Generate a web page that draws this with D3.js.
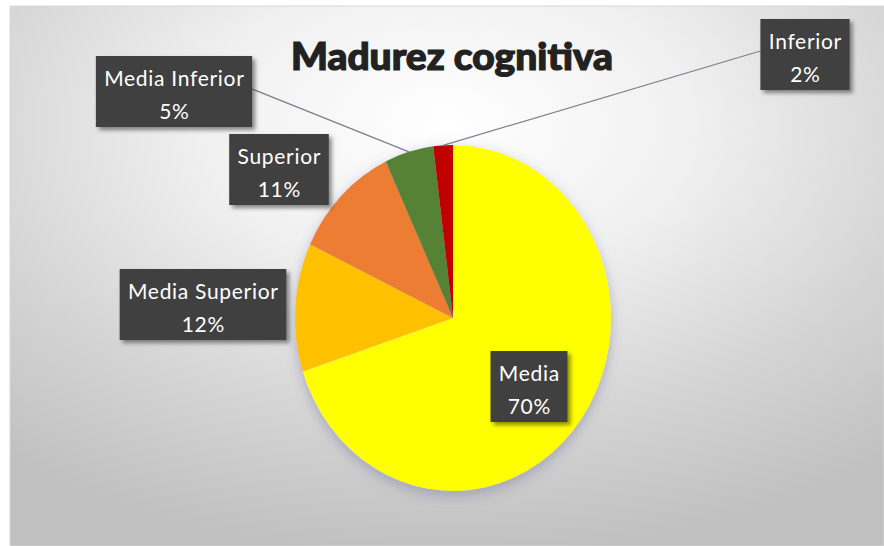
<!DOCTYPE html>
<html>
<head>
<meta charset="utf-8">
<script src="https://cdn.jsdelivr.net/npm/d3@7/dist/d3.min.js"></script>
<style>
html,body{margin:0;padding:0;background:#fff;}
svg{display:block;}
</style>
</head>
<body>
<svg id="chart" width="884" height="546"></svg>
<script>
// ---- data ----
const categories = ["Media", "Media Superior", "Superior", "Media Inferior", "Inferior"];
const values = [70, 12, 11, 5, 2];
const percentLabels = ["70%", "12%", "11%", "5%", "2%"];
const colors = ["#FFFF00", "#FFC000", "#ED7D31", "#548235", "#C00000"];
const title = "Madurez cognitiva";

// ---- layout (label box centre x, top y; leader flag) ----
const labelLayout = [
  {cx: 529, top: 351, leader: false},
  {cx: 203, top: 269, leader: false},
  {cx: 279, top: 134, leader: false},
  {cx: 174, top: 56, leader: true, side: "right"},
  {cx: 805, top: 19, leader: true, side: "left"}
];

const svg = d3.select("#chart");
const W = 884, H = 546;
const defs = svg.append("defs");

const bg = defs.append("radialGradient").attr("id", "bg")
  .attr("cx", "50%").attr("cy", "22%").attr("r", "80%").attr("fx", "50%").attr("fy", "22%");
bg.append("stop").attr("offset", "0%").attr("stop-color", "#ffffff");
bg.append("stop").attr("offset", "35%").attr("stop-color", "#f0f0f0");
bg.append("stop").attr("offset", "70%").attr("stop-color", "#d4d4d4");
bg.append("stop").attr("offset", "100%").attr("stop-color", "#c0c0c0");

const sh = defs.append("filter").attr("id", "boxShadow").attr("x", "-20%").attr("y", "-20%").attr("width", "150%").attr("height", "150%");
sh.append("feDropShadow").attr("dx", 3).attr("dy", 3).attr("stdDeviation", 2).attr("flood-color", "#000").attr("flood-opacity", 0.45);

const psh = defs.append("filter").attr("id", "pieShadow").attr("x", "-20%").attr("y", "-20%").attr("width", "140%").attr("height", "140%");
psh.append("feDropShadow").attr("dx", 0).attr("dy", 4).attr("stdDeviation", 6).attr("flood-color", "#7070a0").attr("flood-opacity", 0.45);

// frame background
svg.append("rect").attr("x", 10).attr("y", 6).attr("width", W - 10).attr("height", H - 6)
  .attr("fill", "url(#bg)").attr("stroke", "#d8d8d8").attr("stroke-width", 1);

// title
svg.append("text").attr("x", 452).attr("y", 70)
  .attr("text-anchor", "middle")
  .attr("font-family", "Lato, 'Open Sans', sans-serif")
  .attr("font-weight", 900).attr("font-size", 37)
  .attr("fill", "#222").attr("stroke", "#222").attr("stroke-width", 1.2)
  .attr("textLength", 322).attr("lengthAdjust", "spacingAndGlyphs")
  .text(title);

// pie
const cx = 453, cy = 318, rx = 158, ry = 173;
const pie = d3.pie().sort(null).value(d => d)(values);
const arc = d3.arc().innerRadius(0).outerRadius(rx);

const pieG = svg.append("g")
  .attr("transform", `translate(${cx},${cy}) scale(1,${ry / rx})`)
  .attr("filter", "url(#pieShadow)");
pieG.selectAll("path").data(pie).join("path")
  .attr("d", arc)
  .attr("fill", (d, i) => colors[i]);

function outerPoint(d) {
  const a = (d.startAngle + d.endAngle) / 2;
  return [cx + rx * Math.sin(a), cy - ry * Math.cos(a)];
}

const boxH = 71;
const FONT = "Lato, 'Open Sans', sans-serif";
const FS = 21, LS = 0.7;
const labelG = svg.append("g");
const tmp = svg.append("text").attr("font-family", FONT).attr("font-size", FS).attr("letter-spacing", LS);

pie.forEach((d, i) => {
  const L = labelLayout[i];
  tmp.text(categories[i]);
  const w1 = tmp.node().getComputedTextLength();
  tmp.text(percentLabels[i]);
  const w2 = tmp.node().getComputedTextLength();
  const bw = Math.max(w1, w2) + 16;
  const x0 = L.cx - bw / 2;
  if (L.leader) {
    const p = outerPoint(d);
    const sx = L.side === "right" ? x0 + bw : x0;
    const sy = L.top + (L.side === "right" ? 33 : 32);
    labelG.append("line").attr("x1", sx).attr("y1", sy).attr("x2", p[0]).attr("y2", p[1])
      .attr("stroke", "#7f7f8f").attr("stroke-width", 1.2);
  }
  const g = labelG.append("g");
  g.append("rect").attr("x", x0).attr("y", L.top).attr("width", bw).attr("height", boxH)
    .attr("fill", "#404040").attr("filter", "url(#boxShadow)");
  [categories[i], percentLabels[i]].forEach((t, k) => {
    g.append("text").attr("x", L.cx + LS / 2).attr("y", L.top + (k === 0 ? 30 : 63)).attr("text-anchor", "middle")
      .attr("font-family", FONT).attr("font-size", FS).attr("letter-spacing", LS)
      .attr("fill", "#ffffff").text(t);
  });
});
tmp.remove();
</script>
</body>
</html>
